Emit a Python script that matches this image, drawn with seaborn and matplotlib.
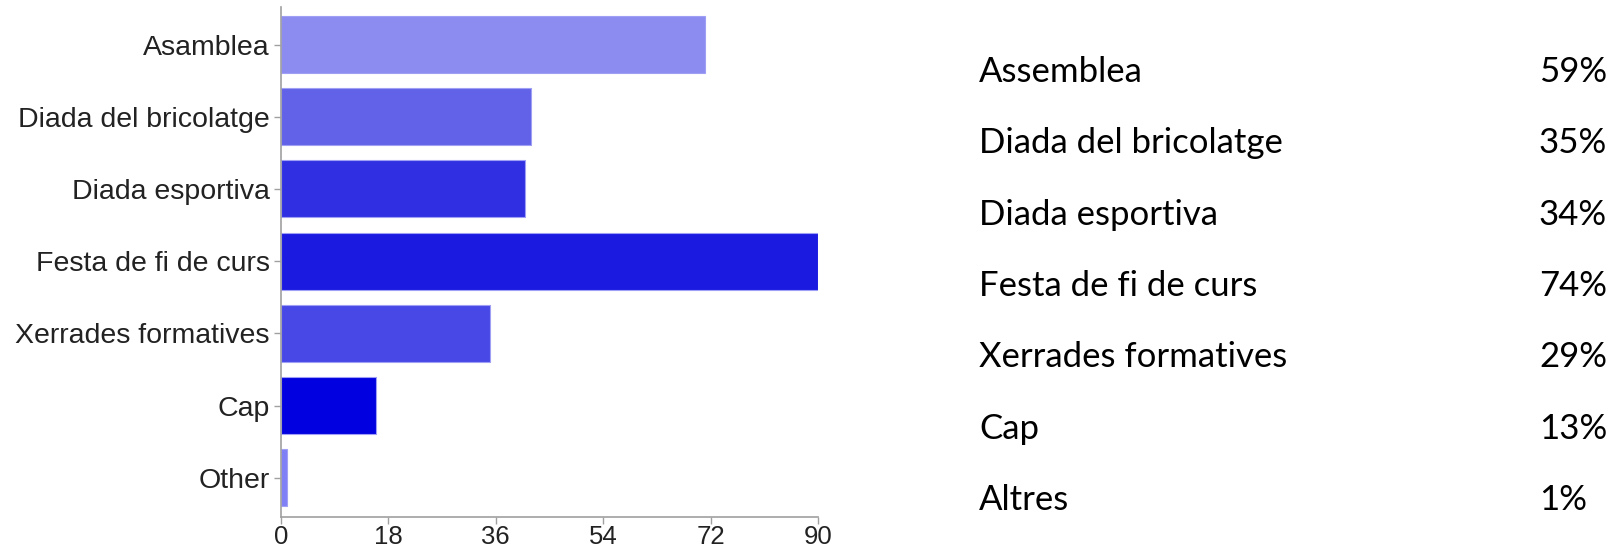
import matplotlib
matplotlib.use('Agg')
import matplotlib.pyplot as plt
import seaborn as sns
import pandas as pd

# Chart data
categories = ['Asamblea', 'Diada del bricolatge', 'Diada esportiva', 'Festa de fi de curs',
              'Xerrades formatives', 'Cap', 'Other']
counts = [71, 42, 41, 90, 35, 16, 1]
bar_colors = ['#8c8cf0', '#6262e8', '#3030e2', '#1a1ae0', '#4848e6', '#0000e0', '#8080f6']
x_ticks = [0, 18, 36, 54, 72, 90]

# Table on the right
table_labels = ['Assemblea', 'Diada del bricolatge', 'Diada esportiva', 'Festa de fi de curs',
                'Xerrades formatives', 'Cap', 'Altres']
table_pcts = ['59%', '35%', '34%', '74%', '29%', '13%', '1%']

sns.set_style('white')
plt.rcParams['font.family'] = ['Liberation Sans', 'DejaVu Sans']

W, H = 1623, 554
fig = plt.figure(figsize=(W / 100, H / 100), dpi=100)

# Bar chart
ax = fig.add_axes([280.7 / W, 1 - 516.7 / H, (818 - 280.7) / W, (516.7 - 7) / H])
df = pd.DataFrame({'cat': categories, 'n': counts})
sns.barplot(data=df, x='n', y='cat', hue='cat', palette=bar_colors, legend=False,
            width=0.79, saturation=1, edgecolor='#9f9ff5', linewidth=0.8, ax=ax)
ax.set_xlim(0, 90)
ax.set_ylim(6.54, -0.52)
ax.set_xticks(x_ticks)
ax.set_xlabel('')
ax.set_ylabel('')
for s in ['top', 'right']:
    ax.spines[s].set_visible(False)
for s in ['left', 'bottom']:
    ax.spines[s].set_color('#a0a0a0')
    ax.spines[s].set_linewidth(1.2)
ax.tick_params(axis='y', length=5, width=1, color='#a0a0a0',
               labelsize=20.5, labelcolor='#222222', pad=3, left=True)
ax.tick_params(axis='x', length=5, width=1, color='#a0a0a0',
               labelsize=18.5, labelcolor='#222222', pad=1, bottom=True)

# Percentages table
ax2 = fig.add_axes([979 / W, 1 - 536 / H, (1607 - 979) / W, (536 - 36) / H])
ax2.set_xlim(979, 1607)
ax2.set_ylim(6.5, -0.5)
ax2.axis('off')
for i, (lab, pct) in enumerate(zip(table_labels, table_pcts)):
    ax2.text(979, i, lab, ha='left', va='center', fontsize=25, family=['Lato', 'DejaVu Sans'], color='black')
    ax2.text(1539, i, pct, ha='left', va='center', fontsize=25, family=['Lato', 'DejaVu Sans'], color='black')

fig.savefig('out.png', dpi=100)
